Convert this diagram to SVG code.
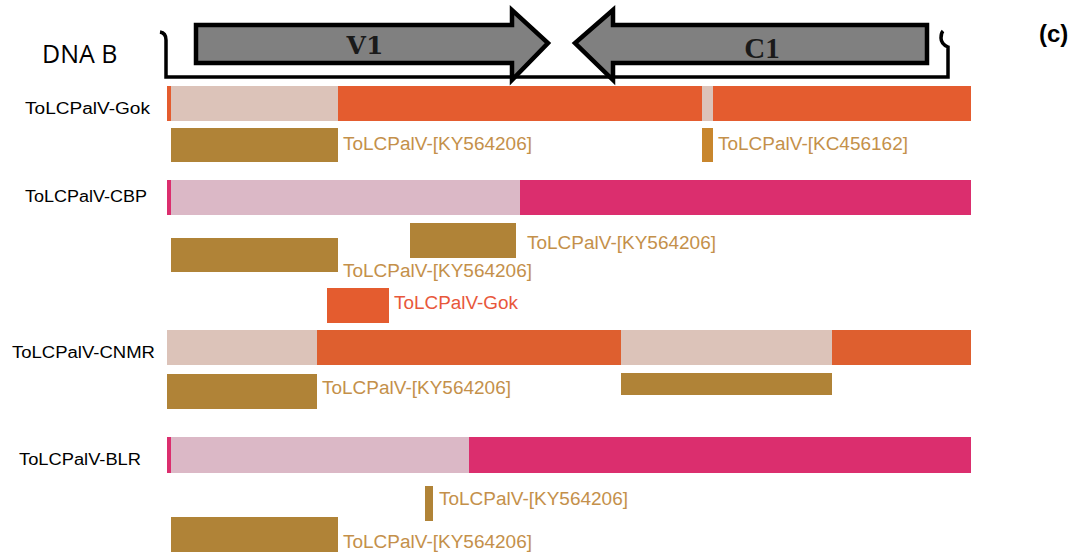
<svg xmlns="http://www.w3.org/2000/svg" width="1088" height="556" viewBox="0 0 1088 556">
<defs>
<style>
.lbl{font-family:"Liberation Sans",Arial,sans-serif;font-size:16px;fill:#000}
.src{font-family:"Liberation Sans",Arial,sans-serif;font-size:18px;fill:#c4904a}
.gok{font-family:"Liberation Sans",Arial,sans-serif;font-size:18px;fill:#e8573a}
.arrow{fill:#808080;stroke:#000;stroke-width:4.5;stroke-linejoin:miter}
.gold{fill:#b08337}
.lbeige{fill:#dcc3b9}
.org{fill:#e45c2f}
.lpink{fill:#dbb8c6}
.pink{fill:#db2e6e}
</style>
</defs>
<rect width="1088" height="556" fill="#fff"/>
<g id="header">
<text x="42" y="63" font-family="'Open Sans',Arial,sans-serif" font-size="25" fill="#000">DNA B</text>
<text x="1039" y="42" font-family="'Liberation Sans',Arial,sans-serif" font-size="24" font-weight="bold" fill="#000">(c)</text>
<path d="M160,32 Q166,33 166,40 L166,77 L948,77 L948,47 Q941,44 941,38 Q941,33 943,31" fill="none" stroke="#000" stroke-width="3.5"/>
</g>
<g id="V1">
<polygon class="arrow" points="196,25 512,25 512,10 548,43 512,80 512,63 196,63"/>
<text x="365" y="54" text-anchor="middle" font-family="'DejaVu Serif',serif" font-weight="bold" font-size="25" fill="#1a1a1a">V1</text>
</g>
<g id="C1">
<polygon class="arrow" points="927,25 613,25 613,10 575,43 613,80 613,63 927,63"/>
<text x="762" y="58" text-anchor="middle" font-family="'Liberation Serif',serif" font-weight="bold" font-size="29" fill="#1a1a1a">C1</text>
</g>
<g id="row-Gok">
<text class="lbl" x="25" y="114" textLength="125" lengthAdjust="spacingAndGlyphs">ToLCPalV-Gok</text>
<rect class="org" x="167" y="86" width="4" height="35"/>
<rect class="lbeige" x="171" y="86" width="167" height="35"/>
<rect class="org" x="338" y="86" width="364" height="35"/>
<rect class="lbeige" x="702" y="86" width="11" height="35"/>
<rect class="org" x="713" y="86" width="258" height="35"/>
<rect class="gold" x="171" y="128" width="167" height="34"/>
<text class="src" x="343" y="150" textLength="189" lengthAdjust="spacingAndGlyphs">ToLCPalV-[KY564206]</text>
<rect x="702" y="128" width="11" height="34" fill="#c8862d"/>
<text class="src" x="718" y="150" textLength="190" lengthAdjust="spacingAndGlyphs">ToLCPalV-[KC456162]</text>
</g>
<g id="row-CBP">
<text class="lbl" x="25" y="202" textLength="122" lengthAdjust="spacingAndGlyphs">ToLCPalV-CBP</text>
<rect class="pink" x="167" y="180" width="4" height="35"/>
<rect class="lpink" x="171" y="180" width="349" height="35"/>
<rect class="pink" x="520" y="180" width="451" height="35"/>
<rect class="gold" x="410" y="223" width="106" height="35"/>
<text class="src" x="527" y="249" textLength="189" lengthAdjust="spacingAndGlyphs">ToLCPalV-[KY564206]</text>
<rect class="gold" x="171" y="238" width="167" height="34"/>
<text class="src" x="343" y="277" textLength="189" lengthAdjust="spacingAndGlyphs">ToLCPalV-[KY564206]</text>
<rect class="org" x="327" y="288" width="62" height="35"/>
<text class="gok" x="394" y="309" textLength="124" lengthAdjust="spacingAndGlyphs">ToLCPalV-Gok</text>
</g>
<g id="row-CNMR">
<text class="lbl" x="12" y="358" textLength="143" lengthAdjust="spacingAndGlyphs">ToLCPalV-CNMR</text>
<rect class="lbeige" x="167" y="330" width="150" height="35"/>
<rect x="317" y="330" width="304" height="35" fill="#de5f2f"/>
<rect class="lbeige" x="621" y="330" width="211" height="35"/>
<rect x="832" y="330" width="139" height="35" fill="#de5f2f"/>
<rect class="gold" x="167" y="374" width="150" height="35"/>
<text class="src" x="322" y="394" textLength="189" lengthAdjust="spacingAndGlyphs">ToLCPalV-[KY564206]</text>
<rect class="gold" x="621" y="373" width="211" height="22"/>
</g>
<g id="row-BLR">
<text class="lbl" x="19" y="465" textLength="122" lengthAdjust="spacingAndGlyphs">ToLCPalV-BLR</text>
<rect class="pink" x="167" y="437" width="4" height="36"/>
<rect class="lpink" x="171" y="437" width="298" height="36"/>
<rect class="pink" x="469" y="437" width="502" height="36"/>
<rect class="gold" x="425" y="486" width="8" height="35"/>
<text class="src" x="439" y="505" textLength="189" lengthAdjust="spacingAndGlyphs">ToLCPalV-[KY564206]</text>
<rect class="gold" x="171" y="517" width="167" height="35"/>
<text class="src" x="343" y="548" textLength="189" lengthAdjust="spacingAndGlyphs">ToLCPalV-[KY564206]</text>
</g>
</svg>
